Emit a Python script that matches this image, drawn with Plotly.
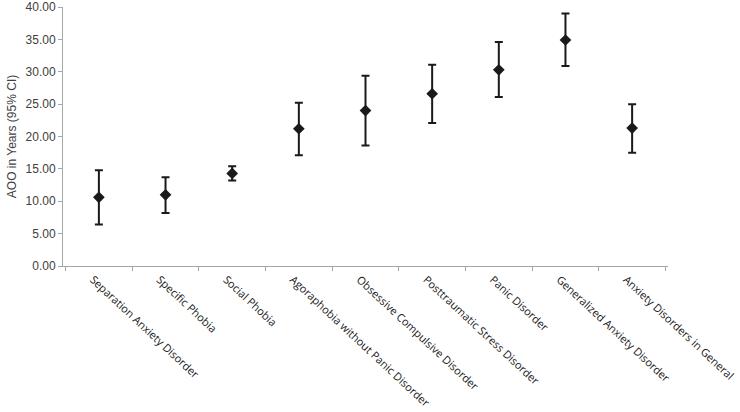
import plotly.graph_objects as go

categories = [
    "Separation Anxiety Disorder",
    "Specific Phobia",
    "Social Phobia",
    "Agoraphobia without Panic Disorder",
    "Obsessive Compulsive Disorder",
    "Posttraumatic Stress Disorder",
    "Panic Disorder",
    "Generalized Anxiety Disorder",
    "Anxiety Disorders in General",
]
mean_aoo = [10.6, 11.0, 14.3, 21.2, 24.0, 26.6, 30.3, 34.9, 21.3]
lower_ci = [6.4, 8.2, 13.2, 17.1, 18.6, 22.1, 26.1, 30.9, 17.5]
upper_ci = [14.8, 13.7, 15.4, 25.2, 29.4, 31.1, 34.6, 39.0, 25.0]
y_ticks = [0, 5, 10, 15, 20, 25, 30, 35, 40]

err_plus = [u - m for u, m in zip(upper_ci, mean_aoo)]
err_minus = [m - l for m, l in zip(mean_aoo, lower_ci)]

fig = go.Figure()
fig.add_trace(go.Scatter(
    x=categories,
    y=mean_aoo,
    mode="markers",
    marker=dict(symbol="diamond", size=9, color="#1a1a1a"),
    error_y=dict(type="data", symmetric=False, array=err_plus, arrayminus=err_minus,
                 color="#1a1a1a", thickness=2, width=4),
    showlegend=False,
))

fig.update_layout(
    width=740, height=412,
    margin=dict(l=63, r=72, t=7, b=146),
    paper_bgcolor="white", plot_bgcolor="white",
    font=dict(family="Liberation Sans, Arial", color="#404040"),
)
fig.update_xaxes(
    type="category",
    tickangle=43,
    automargin=False,
    ticklabelshift=-6,
    ticklabelstandoff=2,
    showline=True, linecolor="#a6a6a6", linewidth=1,
    ticks="outside", ticklen=4, tickcolor="#a6a6a6", tickson="boundaries",
    tickfont=dict(family="Open Sans", size=11, color="#1a1a1a"),
    showgrid=False,
)
fig.update_yaxes(
    range=[0, 40], tickmode="array", tickvals=y_ticks, tickformat=".2f",
    automargin=False,
    showline=True, linecolor="#a6a6a6", linewidth=1,
    ticks="outside", ticklen=4, tickcolor="#a6a6a6",
    tickfont=dict(family="Liberation Sans, Arial", size=12, color="#404040"),
    showgrid=False, zeroline=False,
    title=dict(text="AOO in Years (95% CI)", font=dict(family="Liberation Sans, Arial", size=12, color="#404040"), standoff=6),
)

fig.write_html("out.html", config={"displayModeBar": False},
               post_script="document.body.style.margin='0';")
